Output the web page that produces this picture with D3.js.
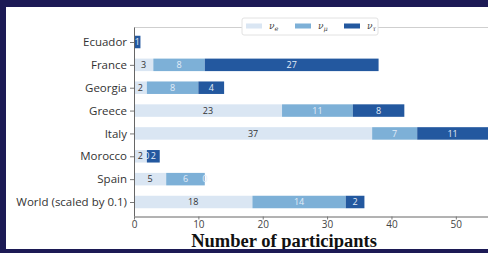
<!DOCTYPE html>
<html lang="en">
<head>
<meta charset="UTF-8">
<title>Participants by country</title>
<script src="https://cdn.jsdelivr.net/npm/d3@7"></script>
<style>
  html, body { margin: 0; padding: 0; background: #fff; }
  svg { display: block; }
  .ylab { font-family: "Open Sans", sans-serif; font-size: 11.5px; fill: #333; }
  .xtick { font-family: "Open Sans", sans-serif; font-size: 10px; fill: #444; }
  .val { font-family: "Open Sans", sans-serif; font-size: 9px; }
  .title { font-family: "Liberation Serif", serif; font-weight: bold; font-size: 18.5px; fill: #111; }
  .leg { font-family: "DejaVu Serif", serif; font-style: italic; font-size: 9px; fill: #444; }
</style>
</head>
<body>
<svg id="chart" width="488" height="253"></svg>
<script>
  // data
  const countries = ['Ecuador', 'France', 'Georgia', 'Greece', 'Italy', 'Morocco', 'Spain', 'World (scaled by 0.1)'];
  const nuE   = [0, 3, 2, 23, 37, 2, 5, 18.4];
  const nuMu  = [0, 8, 8, 11, 7, 0, 6, 14.5];
  const nuTau = [1, 27, 4, 8, 11, 2, 0, 2.9];
  const seriesNames = ['e', 'μ', 'τ'];
  const seriesColors = ['#dae6f3', '#7db0d7', '#23589f'];
  const labelColors = ['#333', '#e3edf8', '#e3edf8'];
  const xTicks = [0, 10, 20, 30, 40, 50];

  const svg = d3.select('#chart');
  const x = d3.scaleLinear().domain([0, 55]).range([134, 488]);
  const y = d3.scalePoint().domain(countries).range([42, 202]);
  const barH = 12.5;
  const plotTop = 27.5, plotBottom = 216.5;

  // stacked layout
  const rows = countries.map((c, i) => ({ country: c, v: [nuE[i], nuMu[i], nuTau[i]] }));
  const segs = [];
  rows.forEach(r => {
    let acc = 0;
    r.v.forEach((val, s) => {
      segs.push({ country: r.country, s: s, x0: acc, x1: acc + val, val: val });
      acc += val;
    });
  });

  // top spine
  svg.append('line')
    .attr('x1', x(0)).attr('x2', 488)
    .attr('y1', plotTop).attr('y2', plotTop)
    .attr('stroke', '#cfcfcf').attr('stroke-width', 1);

  // bars, series by series
  seriesNames.forEach((n, s) => {
    svg.append('g').selectAll('rect')
      .data(segs.filter(d => d.s === s))
      .join('rect')
      .attr('x', d => x(d.x0))
      .attr('width', d => x(d.x1) - x(d.x0))
      .attr('y', d => y(d.country) - barH / 2)
      .attr('height', barH)
      .attr('fill', seriesColors[s]);
  });

  // value labels
  svg.append('g').selectAll('text')
    .data(segs.filter(d => !(d.val === 0 && d.country === 'Ecuador')))
    .join('text')
    .attr('class', 'val')
    .attr('x', d => (x(d.x0) + x(d.x1)) / 2)
    .attr('y', d => y(d.country))
    .attr('dy', '0.35em')
    .attr('text-anchor', 'middle')
    .attr('fill', d => labelColors[d.s])
    .text(d => Math.floor(d.val));

  // y axis
  const yAxis = svg.append('g').attr('transform', `translate(${x(0)},0)`)
    .call(d3.axisLeft(y).tickSize(4).tickPadding(3));
  yAxis.select('.domain').attr('d', `M0.5,${plotTop}V${plotBottom}`).attr('stroke', '#666');
  yAxis.selectAll('.tick line').attr('stroke', '#777');
  yAxis.selectAll('.tick text').attr('class', 'ylab').attr('fill', null);

  // x axis
  const xAxis = svg.append('g').attr('transform', `translate(0,${plotBottom})`)
    .call(d3.axisBottom(x).tickValues(xTicks).tickSize(3).tickPadding(1));
  xAxis.select('.domain').attr('d', `M${x(0)},0.5H488`).attr('stroke', '#666');
  xAxis.selectAll('.tick line').attr('stroke', '#777');
  xAxis.selectAll('.tick text').attr('class', 'xtick').attr('fill', null);

  svg.append('text')
    .attr('class', 'title')
    .attr('x', 284).attr('y', 246.5)
    .attr('text-anchor', 'middle')
    .text('Number of participants');

  // legend
  const leg = svg.append('g').attr('transform', 'translate(242,18)');
  leg.append('rect').attr('width', 136).attr('height', 17).attr('rx', 2)
    .attr('fill', '#fff').attr('stroke', '#e2e2e2');
  seriesNames.forEach((n, s) => {
    const g = leg.append('g').attr('transform', `translate(${4 + s * 49},0)`);
    g.append('rect').attr('y', 5.5).attr('width', 16).attr('height', 5).attr('fill', seriesColors[s]);
    const t = g.append('text').attr('class', 'leg').attr('x', 23).attr('y', 11);
    t.append('tspan').text('ν');
    t.append('tspan').attr('font-size', '6.5px').attr('dy', 2).text(n);
  });

  // navy frame
  const frame = '#1c1a55';
  svg.append('rect').attr('x', 0).attr('y', 0).attr('width', 488).attr('height', 7).attr('fill', frame);
  svg.append('rect').attr('x', 0).attr('y', 0).attr('width', 6).attr('height', 253).attr('fill', frame);
  svg.append('rect').attr('x', 0).attr('y', 249).attr('width', 488).attr('height', 4).attr('fill', frame);
</script>
</body>
</html>
